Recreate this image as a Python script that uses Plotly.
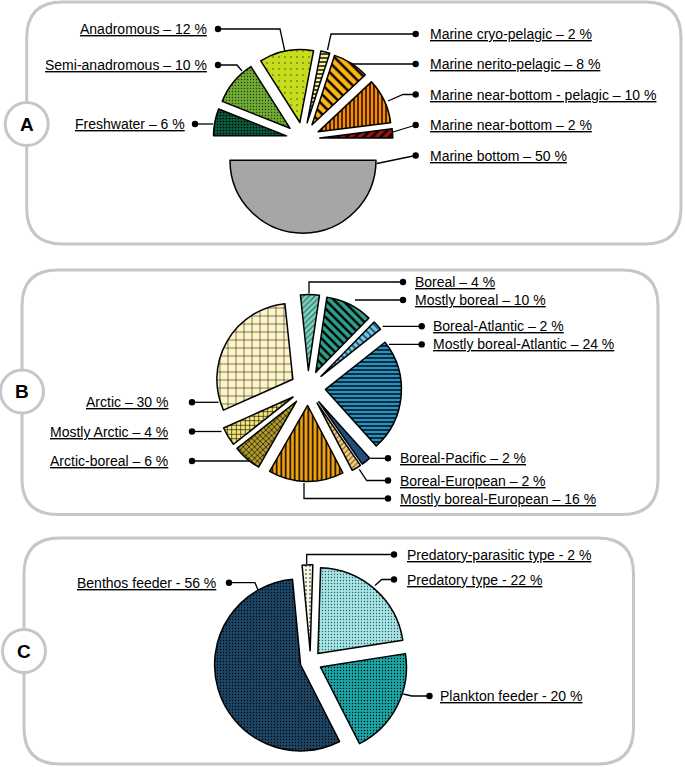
import plotly.graph_objects as go

W, H = 685, 767

# ---------------- DATA ----------------
a_labels = ["Marine bottom", "Freshwater", "Semi-anadromous", "Anadromous",
            "Marine cryo-pelagic", "Marine nerito-pelagic",
            "Marine near-bottom - pelagic", "Marine near-bottom"]
a_values = [50, 6, 10, 12, 2, 8, 10, 2]

b_labels = ["Boreal", "Mostly boreal", "Boreal-Atlantic", "Mostly boreal-Atlantic",
            "Boreal-Pacific", "Boreal-European", "Mostly boreal-European",
            "Arctic-boreal", "Mostly Arctic", "Arctic"]
b_values = [4, 10, 2, 24, 2, 2, 16, 6, 4, 30]

c_labels = ["Predatory-parasitic type", "Predatory type", "Plankton feeder", "Benthos feeder"]
c_values = [2, 22, 20, 56]

panel_letters = ["A", "B", "C"]

# ---------------- STYLE ----------------
FONT = "Arial, Liberation Sans, sans-serif"
GRAY = "#c6c6c6"

a_colors = ["#a6a6a6", "#0a5c3c", "#72ab34", "#c8dc1e", "#f8f0a0", "#ffb612", "#ff8a00", "#a01212"]
a_shapes = ["", ".", ".", ".", "-", "\\", "|", "/"]
a_fg = ["#000", "#000", "#1f3f10", "#3a4a00", "#000", "#000", "#000", "#000"]
a_size = [8, 3, 3, 6, 4, 7, 4, 6]
a_sol = [0.3, 0.25, 0.18, 0.05, 0.35, 0.35, 0.35, 0.4]
a_pull = [0.29, 0.23, 0.23, 0.23, 0.23, 0.23, 0.23, 0.23]

b_colors = ["#86d0c0", "#2ea08c", "#7cc8e0", "#2592c4", "#1f4f7c", "#f3d28a",
            "#f5a412", "#b09c2c", "#f3e67a", "#fdf3c4"]
b_shapes = ["/", "\\", "\\", "-", "", "/", "|", "x", "+", "+"]
b_fg = ["#2a7f70", "#000", "#1a5a7a", "#000", "#000", "#8a6a20", "#000", "#000", "#000", "#000"]
b_size = [4, 6, 5, 4, 8, 4, 4.5, 4, 4.5, 8]
b_sol = [0.35, 0.4, 0.4, 0.35, 0.3, 0.35, 0.35, 0.3, 0.25, 0.12]
b_pull = [0.23] * 10

c_colors = ["#f4f9e6", "#a9e3e3", "#1aa6a6", "#1d4566"]
c_shapes = [".", ".", ".", "."]
c_fg = ["#000", "#1f5f5f", "#000", "#000"]
c_size = [4, 3, 3, 3]
c_sol = [0.12, 0.15, 0.15, 0.15]
c_pull = [0.13, 0.13, 0.13, 0.12]

# pie geometry (pixel centre, radius, rotation)
pie_geo = {
    "A": dict(cx=303, cy=139, r=73, rot=90),
    "B": dict(cx=308, cy=388, r=76, rot=-6),
    "C": dict(cx=310.5, cy=662, r=86, rot=-5.4),
}

# label layout: side, anchor x, y, leader polyline (pixels)
a_lab = {
    "Marine bottom": ("L", 428, 155.5, [(415.7, 155.5), (376.7, 163.5)]),
    "Freshwater": ("R", 187, 124, [(195, 124), (213, 124)]),
    "Semi-anadromous": ("R", 209, 65, [(218, 65), (237, 65), (242, 71)]),
    "Anadromous": ("R", 209, 29, [(218, 29), (280, 29), (285, 52)]),
    "Marine cryo-pelagic": ("L", 428, 34, [(415.7, 34), (331, 34), (327.5, 50)]),
    "Marine nerito-pelagic": ("L", 428, 64, [(415.7, 64), (347, 64)]),
    "Marine near-bottom - pelagic": ("L", 428, 94.5, [(415.7, 94.5), (403, 94.5), (388, 101)]),
    "Marine near-bottom": ("L", 428, 125, [(415.7, 125), (411, 126.5), (393, 132)]),
}
b_lab = {
    "Boreal": ("L", 413, 282, [(403, 282), (309, 282), (309, 293.5)]),
    "Mostly boreal": ("L", 413, 300, [(403, 300), (355, 300)]),
    "Boreal-Atlantic": ("L", 431, 326.3, [(421.7, 326.3), (382.7, 326.3)]),
    "Mostly boreal-Atlantic": ("L", 431, 344.4, [(421.7, 344.4), (389, 344.4)]),
    "Boreal-Pacific": ("L", 397.6, 458.3, [(388, 458.3), (370.5, 458.3)]),
    "Boreal-European": ("L", 397.6, 480.5, [(388, 480.5), (366.7, 480.5), (359.3, 469.3)]),
    "Mostly boreal-European": ("L", 397.6, 498.5, [(388, 498.5), (304, 498.5), (304, 483)]),
    "Arctic-boreal": ("R", 169.5, 461, [(192, 461), (250, 461)]),
    "Mostly Arctic": ("R", 169.5, 431.5, [(192, 431.5), (221.5, 431.5)]),
    "Arctic": ("R", 169.5, 402.3, [(192, 402.3), (218.5, 402.3)]),
}
c_lab = {
    "Predatory-parasitic type": ("L", 405, 554.5, [(394, 554.5), (306.7, 554.5), (306.7, 564)]),
    "Predatory type": ("L", 405, 579.5, [(394, 579.5), (381.7, 579.5), (375, 585.5)]),
    "Plankton feeder": ("L", 438, 696, [(429.5, 696), (411.7, 696), (403.3, 694)]),
    "Benthos feeder": ("R", 218.4, 582.7, [(229, 582.7), (255, 582.7), (258.3, 590.7)]),
}

panels = {
    "A": dict(x0=26.7, y0=2, x1=681, y1=244, cx=26.7, cy=124),
    "B": dict(x0=22, y0=270, x1=658, y1=514.5, cx=22, cy=391.5),
    "C": dict(x0=24, y0=538, x1=633.5, y1=764, cx=24, cy=651),
}

fig = go.Figure()


def add_pie(key, labels, values, colors, shapes, fg, size, sol, pull):
    g = pie_geo[key]
    mp = max(pull)
    s = 2 * g["r"] * (1 + mp)
    x0, x1 = (g["cx"] - s / 2) / W, (g["cx"] + s / 2) / W
    y0, y1 = 1 - (g["cy"] + s / 2) / H, 1 - (g["cy"] - s / 2) / H
    fig.add_trace(go.Pie(
        labels=labels, values=values, sort=False, direction="clockwise",
        rotation=g["rot"], pull=pull, textinfo="none", hoverinfo="label+percent",
        domain=dict(x=[x0, x1], y=[y0, y1]), showlegend=False,
        marker=dict(colors=colors, line=dict(color="#000", width=1.5),
                    pattern=dict(shape=shapes, fgcolor=fg, bgcolor=colors,
                                 size=size, solidity=sol, fillmode="replace")),
    ))


add_pie("A", a_labels, a_values, a_colors, a_shapes, a_fg, a_size, a_sol, a_pull)
add_pie("B", b_labels, b_values, b_colors, b_shapes, b_fg, b_size, b_sol, b_pull)
add_pie("C", c_labels, c_values, c_colors, c_shapes, c_fg, c_size, c_sol, c_pull)

shapes = []
annotations = []


def rrect(x0, y0, x1, y1, r):
    return (f"M{x0+r},{y0} L{x1-r},{y0} Q{x1},{y0} {x1},{y0+r} L{x1},{y1-r} "
            f"Q{x1},{y1} {x1-r},{y1} L{x0+r},{y1} Q{x0},{y1} {x0},{y1-r} "
            f"L{x0},{y0+r} Q{x0},{y0} {x0+r},{y0} Z")


for k in panel_letters:
    p = panels[k]
    shapes.append(dict(type="path", xref="x", yref="y", layer="below",
                       path=rrect(p["x0"], p["y0"], p["x1"], p["y1"], 36),
                       line=dict(color=GRAY, width=3), fillcolor="rgba(0,0,0,0)"))
    rr = 21.5
    shapes.append(dict(type="circle", xref="x", yref="y", layer="below",
                       x0=p["cx"] - rr, x1=p["cx"] + rr, y0=p["cy"] - rr, y1=p["cy"] + rr,
                       line=dict(color=GRAY, width=3), fillcolor="white"))
    annotations.append(dict(x=p["cx"], y=p["cy"], xref="x", yref="y", text=f"<b>{k}</b>",
                            showarrow=False, xanchor="center", yanchor="middle",
                            font=dict(family=FONT, size=19, color="#000")))


def add_labels(labels, values, lab, sep):
    for name, v in zip(labels, values):
        side, x, y, pts = lab[name]
        path = "M" + " L".join(f"{px},{py}" for px, py in pts)
        shapes.append(dict(type="path", xref="x", yref="y", layer="below", path=path,
                           line=dict(color="#000", width=1.3)))
        dx, dy = pts[0]
        shapes.append(dict(type="circle", xref="x", yref="y", layer="above",
                           x0=dx - 3.2, x1=dx + 3.2, y0=dy - 3.2, y1=dy + 3.2,
                           line=dict(color="#000", width=0), fillcolor="#000"))
        annotations.append(dict(
            x=x, y=y, xref="x", yref="y", showarrow=False,
            text=f"<u>{name} {sep} {v} %</u>",
            xanchor="left" if side == "L" else "right", yanchor="middle",
            font=dict(family=FONT, size=14, color="#000")))


add_labels(a_labels, a_values, a_lab, "–")
add_labels(b_labels, b_values, b_lab, "–")
add_labels(c_labels, c_values, c_lab, "-")

fig.update_layout(
    width=W, height=H, margin=dict(l=0, r=0, t=0, b=0),
    paper_bgcolor="white", plot_bgcolor="rgba(0,0,0,0)",
    xaxis=dict(range=[0, W], visible=False, fixedrange=True),
    yaxis=dict(range=[H, 0], visible=False, fixedrange=True),
    shapes=shapes, annotations=annotations, showlegend=False,
)

fig.write_html("out.html", config={"displayModeBar": False},
               post_script="document.body.style.margin='0';document.body.style.overflow='hidden';")
